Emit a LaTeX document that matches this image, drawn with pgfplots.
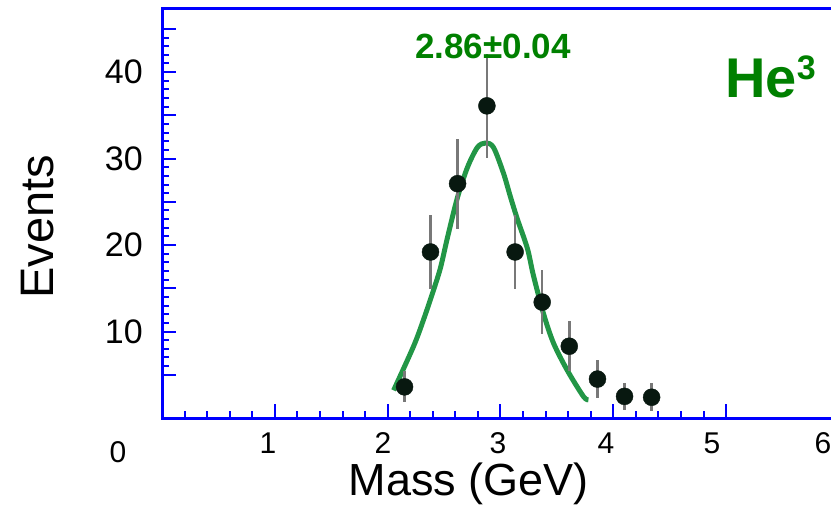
\documentclass[border=0pt]{standalone}
\usepackage{fontspec}
\setmainfont{Liberation Sans}
\usepackage{pgfplots}
\pgfplotsset{compat=1.18}
\definecolor{axblue}{RGB}{0,0,255}
\definecolor{fitgreen}{RGB}{34,150,70}
\definecolor{txtgreen}{RGB}{0,128,0}
\definecolor{errgray}{RGB}{120,120,120}
\definecolor{ptcol}{RGB}{8,24,16}
\begin{document}
\begin{tikzpicture}[x=1pt,y=1pt]
\begin{axis}[
  at={(162pt,89pt)}, anchor=south west,
  scale only axis, width=669pt, height=409pt,
  xmin=0, xmax=5.93, ymin=0, ymax=47.3,
  axis line style={draw=none},
  tick pos=left, tick align=inside,
  xtick={0,1,2,3,4,5}, xticklabels={,,,,,},
  minor x tick num=4,
  ytick={5,10,...,45}, yticklabels={,10,,20,,30,,40,},
  minor y tick num=4,
  major tick length=14pt, minor tick length=7pt,
  tick style={axblue, line width=2pt},
  yticklabel style={font=\fontsize{34}{34}\selectfont, inner sep=0pt, anchor=east, xshift=-19pt},
  /pgf/number format/assume math mode=true,
  clip=false,
]
\addplot[fitgreen, line width=5pt, smooth, tension=0.5] coordinates {
  (2.053,3.2) (2.230,8.3) (2.319,11.4) (2.407,14.8) (2.469,17.4)
  (2.531,20.9) (2.619,25.5) (2.708,29.0) (2.796,31.3) (2.867,31.8)
  (2.938,31.3) (3.027,28.3) (3.088,25.6) (3.150,23.0) (3.239,19.6)
  (3.292,16.5) (3.381,12.1) (3.469,8.7) (3.593,5.5) (3.735,2.5) (3.78,2.1)
};
\addplot[only marks, mark=*, mark size=8.5pt,
  mark options={fill=ptcol, draw=ptcol},
  error bars/.cd, y dir=both, y explicit, error mark=none,
  error bar style={errgray, line width=2.5pt}]
  coordinates {
  (2.15,3.6) +- (0,1.8)
  (2.38,19.2) +- (0,4.3)
  (2.62,27.1) +- (0,5.2)
  (2.88,36.1) +- (0,6.0)
  (3.13,19.2) +- (0,4.3)
  (3.37,13.4) +- (0,3.7)
  (3.61,8.3) +- (0,2.9)
  (3.86,4.5) +- (0,2.2)
  (4.10,2.5) +- (0,1.6)
  (4.34,2.4) +- (0,1.6)
};
\draw[axblue, line width=3pt] (rel axis cs:1,1) -- (rel axis cs:0,1) -- (rel axis cs:0,0) -- (rel axis cs:1,0);
\end{axis}
\node[font=\fontsize{45}{45}\selectfont, anchor=base] at (469,12) {Mass (GeV)};
\node[font=\fontsize{47}{47}\selectfont, rotate=90, anchor=base] at (53,280) {Events};
\foreach \x/\l in {268/1,383/2,498/3,606/4,712/5,823/6}
  \node[font=\fontsize{30}{30}\selectfont, anchor=base] at (\x,54) {\l};
\node[font=\fontsize{30}{30}\selectfont, anchor=base] at (118,45) {0};
\node[font=\bfseries\fontsize{35}{35}\selectfont, text=txtgreen, anchor=base] at (493,448) {2.86±0.04};
\node[font=\bfseries\fontsize{56}{56}\selectfont, text=txtgreen, anchor=base west, inner sep=0pt] at (725,409) {He\raisebox{18pt}{\fontsize{34}{34}\selectfont 3}};
\pgfresetboundingbox
\useasboundingbox (0,0) rectangle (831,507);
\end{tikzpicture}
\end{document}
